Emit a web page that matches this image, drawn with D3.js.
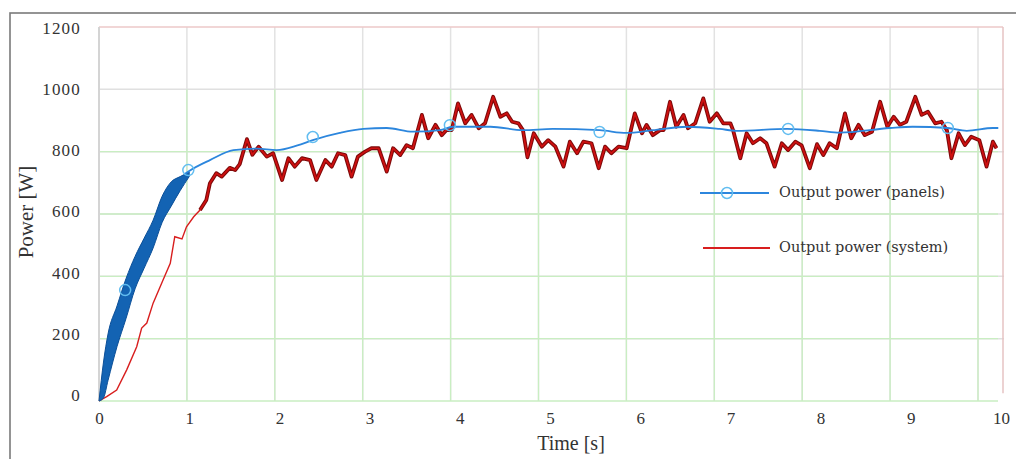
<!DOCTYPE html>
<html>
<head>
<meta charset="utf-8">
<script src="https://cdn.jsdelivr.net/npm/d3@7"></script>
<style>
  body { margin: 0; background: #fff; }
  svg { display: block; }
</style>
</head>
<body>
<div id="chart"></div>
<script>

// --------------------------------------
//  Data
// --------------------------------------

const timeTicks = [0, 1, 2, 3, 4, 5, 6, 7, 8, 9, 10];
const powerTicks = [0, 200, 400, 600, 800, 1000, 1200];

// panels: fast oscillating start drawn as a band (upper / lower envelope)
const bandTime  = [0, 0.05, 0.1, 0.2, 0.3, 0.4, 0.5, 0.6, 0.7, 0.8, 0.9, 1.0];
const bandUpper = [0, 125, 215, 305, 393, 464, 522, 580, 657, 703, 720, 735];
const bandLower = [0, 10, 66, 175, 265, 360, 426, 491, 573, 625, 675, 720];

// panels: smooth part
const panelsTime  = [0.95, 1.0, 1.23, 1.49, 1.75, 1.97, 2.2, 2.37, 2.67, 2.93, 3.19, 3.48, 3.78, 3.92, 4.34, 4.7, 5.03, 5.55, 5.85, 6.14, 6.52, 6.88, 7.07, 7.63, 7.99, 8.21, 8.77, 9.02, 9.41, 9.62, 9.91, 9.97];
const panelsPower = [728, 738, 773, 805, 810, 805, 820, 837, 860, 873, 876, 864, 869, 880, 880, 869, 873, 869, 860, 869, 880, 873, 867, 873, 867, 861, 876, 880, 876, 867, 876, 876];

// panels: circle markers
const markerTime  = [0.29, 0.99, 2.37, 3.89, 5.55, 7.64, 9.41];
const markerPower = [356, 741, 847, 885, 863, 873, 876];

// system
const systemTime = [0, 0.085, 0.196, 0.307, 0.418, 0.473, 0.53, 0.6, 0.71, 0.79, 0.84, 0.92, 0.97, 1.05, 1.12, 1.19,
  1.23, 1.3, 1.36, 1.45, 1.51, 1.56, 1.64, 1.7, 1.77, 1.86, 1.93, 2.03, 2.1, 2.17, 2.25, 2.34, 2.41, 2.51, 2.58, 2.65,
  2.73, 2.8, 2.87, 2.95, 3.02, 3.1, 3.19, 3.26, 3.34, 3.41, 3.48, 3.58, 3.65, 3.73, 3.8, 3.85, 3.91, 3.98, 4.06, 4.13,
  4.21, 4.28, 4.37, 4.45, 4.52, 4.58, 4.65, 4.7, 4.75, 4.82, 4.91, 4.98, 5.06, 5.15, 5.22, 5.3, 5.37, 5.46, 5.54, 5.61,
  5.68, 5.76, 5.85, 5.94, 6.02, 6.07, 6.14, 6.22, 6.26, 6.33, 6.4, 6.48, 6.53, 6.61, 6.7, 6.77, 6.85, 6.92, 7.0, 7.03,
  7.11, 7.18, 7.25, 7.33, 7.4, 7.49, 7.57, 7.64, 7.72, 7.79, 7.88, 7.96, 8.03, 8.1, 8.18, 8.27, 8.34, 8.42, 8.49, 8.57,
  8.66, 8.74, 8.81, 8.88, 8.95, 9.05, 9.12, 9.19, 9.27, 9.34, 9.4, 9.45, 9.53, 9.6, 9.67, 9.76, 9.84, 9.91, 9.95];
const systemPower = [0, 14, 35, 100, 174, 234, 250, 314, 388, 442, 527, 520, 559, 591, 613, 645,
  699, 731, 720, 748, 741, 760, 840, 790, 816, 784, 795, 709, 779, 752, 779, 773, 709, 773, 752, 795,
  789, 720, 784, 800, 811, 811, 736, 811, 789, 821, 811, 918, 843, 886, 853, 869, 869, 955, 891, 918,
  875, 891, 976, 912, 923, 896, 891, 869, 782, 859, 816, 837, 816, 752, 832, 795, 832, 827, 747, 816,
  795, 816, 811, 923, 859, 886, 853, 869, 869, 960, 880, 918, 875, 891, 971, 896, 923, 891, 891, 869,
  779, 859, 827, 843, 827, 752, 827, 805, 832, 820, 747, 824, 789, 827, 811, 923, 843, 886, 853, 864,
  960, 880, 912, 886, 896, 976, 918, 928, 891, 896, 869, 779, 859, 821, 848, 837, 752, 832, 811];

const legendLabels = ["Output power (panels)", "Output power (system)"];

// --------------------------------------
//  Canvas
// --------------------------------------

const width = 1016;
const height = 459;

const svg = d3.select("#chart")
  .append("svg")
    .attr("width", width)
    .attr("height", height);

// outer frame of the figure
svg.append("rect")
    .attr("x", 10).attr("y", 13)
    .attr("width", 1020).attr("height", 460)
    .attr("fill", "none")
    .attr("stroke", "#7a7a7a")
    .attr("stroke-width", 1.6);

// --------------------------------------
//  Scales
// --------------------------------------

const x = d3.scaleLinear().domain([0, 10]).range([99, 1001]);
const xGrid = d3.scaleLinear().domain([0, 10]).range([99, 978]);
const y = d3.scaleLinear().domain([0, 1200]).range([401, 27]);
const yLabel = d3.scaleLinear().domain([0, 1200]).range([395, 28]);

// --------------------------------------
//  Grid
// --------------------------------------

const grid = svg.append("g");

// grey grid
grid.selectAll(".hgrey")
  .data(powerTicks.filter(d => d > 0 && d < 1200))
  .join("line")
    .attr("x1", x(0)).attr("x2", x(10) + 3)
    .attr("y1", d => y(d)).attr("y2", d => y(d))
    .attr("stroke", "#e0e0e0").attr("stroke-width", 1.5);

grid.selectAll(".vgrey")
  .data(timeTicks.filter(d => d > 0))
  .join("line")
    .attr("x1", d => xGrid(d)).attr("x2", d => xGrid(d))
    .attr("y1", y(1200)).attr("y2", y(0))
    .attr("stroke", "#e2e2e2").attr("stroke-width", 1.5);

// green grid
grid.selectAll(".hgreen")
  .data(powerTicks.filter(d => d < 1000))
  .join("line")
    .attr("x1", x(0)).attr("x2", x(10) - 3)
    .attr("y1", d => y(d)).attr("y2", d => y(d))
    .attr("stroke", "#c9eec2").attr("stroke-width", 1.3);

grid.selectAll(".vgreen")
  .data(timeTicks.filter(d => d > 0))
  .join("line")
    .attr("x1", d => xGrid(d)).attr("x2", d => xGrid(d))
    .attr("y1", y(1000)).attr("y2", y(0))
    .attr("stroke", "#c9eec2").attr("stroke-width", 1.3);

// top and right border of the plot (reddish)
grid.append("line")
    .attr("x1", x(0)).attr("x2", x(10) + 2)
    .attr("y1", y(1200)).attr("y2", y(1200))
    .attr("stroke", "#ecc9c9").attr("stroke-width", 1.5);
grid.append("line")
    .attr("x1", x(10) + 2).attr("x2", x(10) + 2)
    .attr("y1", y(1200)).attr("y2", y(25))
    .attr("stroke", "#e6c3c3").attr("stroke-width", 1.5);

// left axis line
grid.append("line")
    .attr("x1", x(0)).attr("x2", x(0))
    .attr("y1", y(1200)).attr("y2", y(0))
    .attr("stroke", "#d4d4d4").attr("stroke-width", 2);

// --------------------------------------
//  Axes
// --------------------------------------

const xAxis = svg.append("g")
    .attr("transform", `translate(0, ${y(0)})`)
    .call(d3.axisBottom(x)
          .tickValues(timeTicks)
          .tickSize(0)
          .tickPadding(11)
          .tickFormat(d3.format("d")));

const yAxis = svg.append("g")
    .attr("transform", `translate(81, 0)`)
    .call(d3.axisLeft(yLabel)
          .tickValues(powerTicks)
          .tickSize(0)
          .tickPadding(0)
          .tickFormat(d3.format("d")));

svg.selectAll(".domain").remove();
svg.selectAll(".tick text")
    .attr("font-family", "Liberation Serif, serif")
    .attr("font-size", 17)
    .attr("fill", "#333");
yAxis.selectAll(".tick text")
    .attr("letter-spacing", 1.2);

svg.append("text")
    .attr("x", 571).attr("y", 450)
    .attr("text-anchor", "middle")
    .attr("font-family", "Liberation Serif, serif")
    .attr("font-size", 20)
    .attr("fill", "#333")
    .text("Time [s]");

svg.append("text")
    .attr("transform", `translate(33, 212) rotate(-90)`)
    .attr("text-anchor", "middle")
    .attr("font-family", "Liberation Serif, serif")
    .attr("font-size", 21)
    .attr("fill", "#333")
    .text("Power [W]");

// --------------------------------------
//  Data drawing
// --------------------------------------

const band = bandTime.map((t, i) => ({t: t, lo: bandLower[i], hi: bandUpper[i]}));
const panels = panelsTime.map((t, i) => ({t: t, p: panelsPower[i]}));
const markers = markerTime.map((t, i) => ({t: t, p: markerPower[i]}));
const system = systemTime.map((t, i) => ({t: t, p: systemPower[i]}));

const smoothLine = d3.line()
    .x(d => x(d.t))
    .y(d => y(d.p))
    .curve(d3.curveMonotoneX);

const sharpLine = d3.line()
    .x(d => x(d.t))
    .y(d => y(d.p));

// system, thin rising part
svg.append("path")
    .datum(system.filter(d => d.t <= 1.19))
    .attr("d", sharpLine)
    .attr("fill", "none")
    .attr("stroke", "#d81e1e")
    .attr("stroke-width", 1.4);

// system, thick part
const systemThick = system.filter(d => d.t >= 1.12);
svg.append("path")
    .datum(systemThick)
    .attr("d", sharpLine)
    .attr("fill", "none")
    .attr("stroke", "#7d0a0a")
    .attr("stroke-width", 3.8)
    .attr("stroke-linejoin", "round");
svg.append("path")
    .datum(systemThick)
    .attr("d", sharpLine)
    .attr("fill", "none")
    .attr("stroke", "#cf1010")
    .attr("stroke-width", 1.7)
    .attr("stroke-linejoin", "round");

// panels band
svg.append("path")
    .datum(band)
    .attr("d", d3.area()
        .x(d => x(d.t))
        .y0(d => y(d.lo))
        .y1(d => y(d.hi))
        .curve(d3.curveMonotoneX))
    .attr("fill", "#1363b3")
    .attr("stroke", "#0b4f98")
    .attr("stroke-width", 1);

// panels line
svg.append("path")
    .datum(panels)
    .attr("d", smoothLine)
    .attr("fill", "none")
    .attr("stroke", "#2c86dd")
    .attr("stroke-width", 1.8);

svg.selectAll(".marker")
  .data(markers)
  .join("circle")
    .attr("class", "marker")
    .attr("cx", d => x(d.t))
    .attr("cy", d => y(d.p))
    .attr("r", 5.5)
    .attr("fill", "none")
    .attr("stroke", "#62bdf0")
    .attr("stroke-width", 1.5);

// --------------------------------------
//  Legend
// --------------------------------------

const legend = svg.append("g");

legend.append("line")
    .attr("x1", 700).attr("x2", 769)
    .attr("y1", 193).attr("y2", 193)
    .attr("stroke", "#2c86dd").attr("stroke-width", 2);
legend.append("circle")
    .attr("cx", 727).attr("cy", 193).attr("r", 5.5)
    .attr("fill", "none")
    .attr("stroke", "#62bdf0").attr("stroke-width", 1.5);
legend.append("line")
    .attr("x1", 703).attr("x2", 770)
    .attr("y1", 248).attr("y2", 248)
    .attr("stroke", "#d81e1e").attr("stroke-width", 2);

legend.selectAll("text")
  .data(legendLabels)
  .join("text")
    .attr("x", 779)
    .attr("y", (d, i) => i === 0 ? 197 : 252)
    .attr("font-family", "DejaVu Serif, serif")
    .attr("font-size", 14.5)
    .attr("fill", "#333")
    .text(d => d);

</script>
</body>
</html>
